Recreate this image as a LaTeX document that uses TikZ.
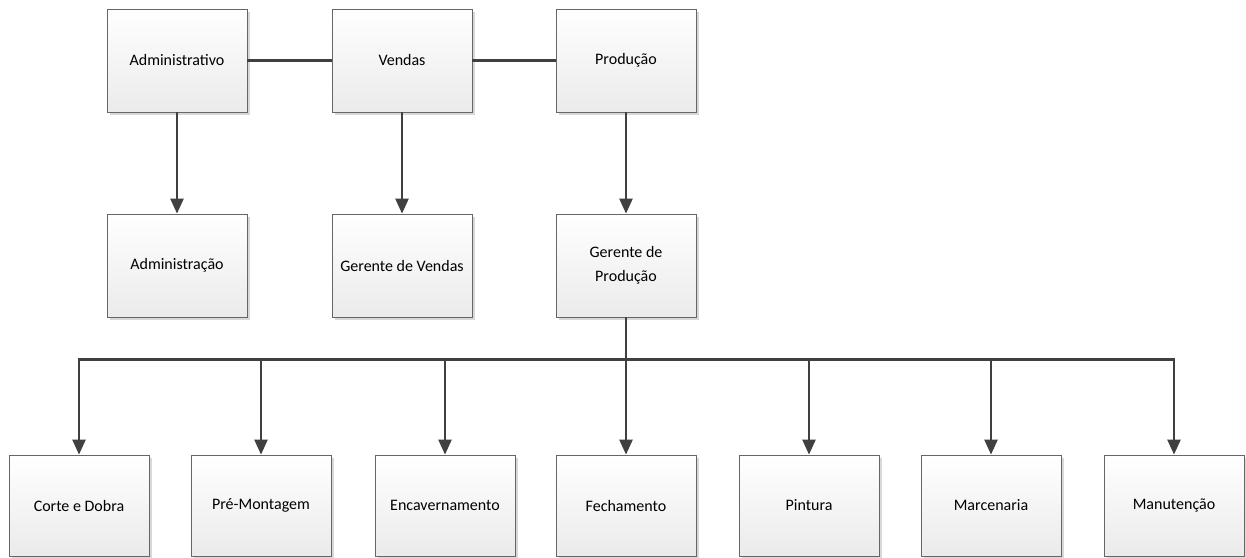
\documentclass[tikz,border=0pt]{standalone}
\usepackage{fontspec}
\setmainfont{Carlito}
\usetikzlibrary{arrows.meta,shadows}
\begin{document}
\begin{tikzpicture}[x=1pt,y=-1pt,
  box/.style={draw=black!60,line width=0.8pt,top color=white,bottom color=black!8,
    minimum width=140pt,minimum height=103pt,inner sep=2pt,align=center,
    font=\fontsize{16}{24}\selectfont,
    drop shadow={shadow xshift=3pt,shadow yshift=-3pt,fill=black!25,opacity=0.6}},
  lowbox/.style={box,minimum height=101pt},
  conn/.style={draw=black!75,line width=2.4pt},
  arr/.style={conn,-{Triangle[width=13pt,length=15pt]}}]
\useasboundingbox[fill=white] (0,0) rectangle (1246,557);
\node[box] (adm) at (177,60.5) {Administrativo};
\node[box] (ven) at (402,60.5) {Vendas};
\node[box] (pro) at (626,60.5) {Produção};
\node[box] (admi) at (177,265.5) {Administração};
\node[box] (gv) at (402,265.5) {Gerente de Vendas};
\node[box] (gp) at (626,265.5) {Gerente de\\Produção};
\node[lowbox] (b1) at (79,505.5) {Corte e Dobra};
\node[lowbox] (b2) at (261,505.5) {Pré-Montagem};
\node[lowbox] (b3) at (445,505.5) {Encavernamento};
\node[lowbox] (b4) at (626,505.5) {Fechamento};
\node[lowbox] (b5) at (809,505.5) {Pintura};
\node[lowbox] (b6) at (991,505.5) {Marcenaria};
\node[lowbox] (b7) at (1174,505.5) {Manutenção};
\draw[conn] (adm) -- (ven);
\draw[conn] (ven) -- (pro);
\draw[arr] (adm) -- (admi);
\draw[arr] (ven) -- (gv);
\draw[arr] (pro) -- (gp);
\foreach \b in {b1,b2,b3,b4,b5,b6,b7}
  \draw[arr] (gp.south) -- ++(0,42) -| (\b.north);
\end{tikzpicture}
\end{document}
